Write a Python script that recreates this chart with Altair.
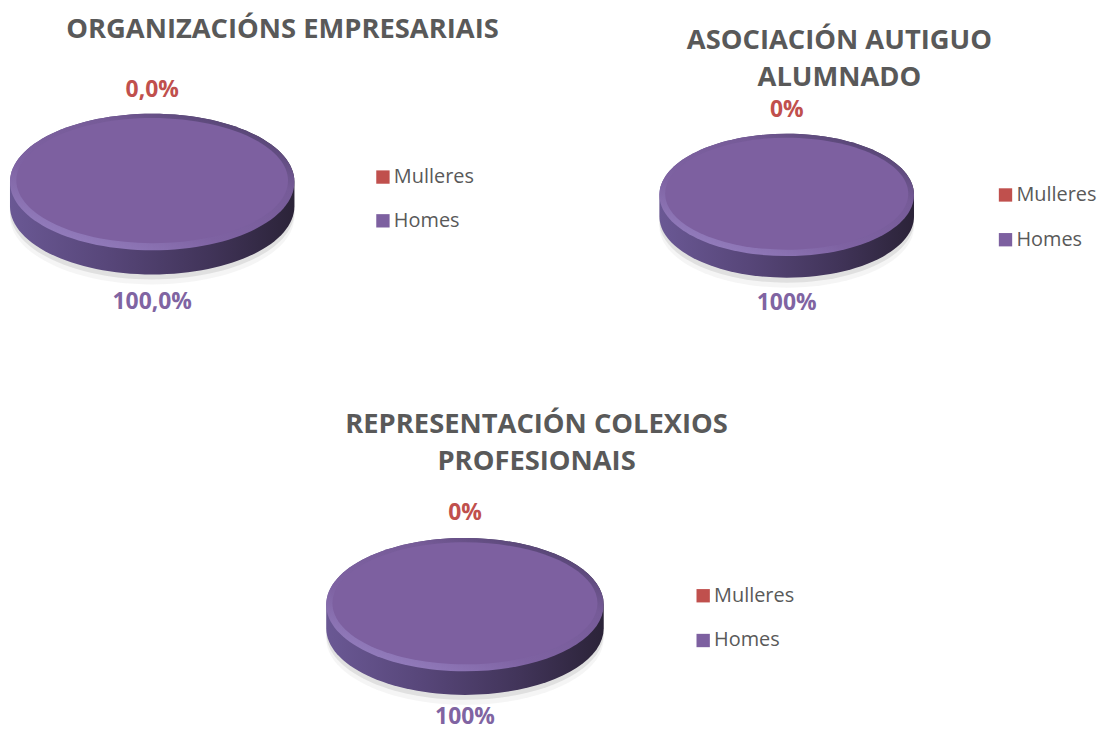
import altair as alt
import pandas as pd

# ---------------- data ----------------
titles = [
    ["ORGANIZACIÓNS EMPRESARIAIS"],
    ["ASOCIACIÓN AUTIGUO", "ALUMNADO"],
    ["REPRESENTACIÓN COLEXIOS", "PROFESIONAIS"],
]
categories = ["Mulleres", "Homes"]
mulleres_pct = [0.0, 0.0, 0.0]
homes_pct = [100.0, 100.0, 100.0]
mulleres_labels = ["0,0%", "0%", "0%"]
homes_labels = ["100,0%", "100%", "100%"]
colors = ["#C0504D", "#7D60A0"]

# ---------------- style / layout ----------------
FONT = "Open Sans"
A, D = 0.48, 0.17   # ellipse ratio and disc depth (relative to horizontal radius)
TOP = f"M -1 0 A 1 {A} 0 1 1 1 0 A 1 {A} 0 1 1 -1 0 Z"
INNER = (f"M -0.955 -0.01 A 0.955 {A-0.04} 0 1 1 0.955 -0.01 "
         f"A 0.955 {A-0.04} 0 1 1 -0.955 -0.01 Z")
SIDE = f"M -1 0 A 1 {A} 0 0 1 1 0 L 1 {D} A 1 {A} 0 0 1 -1 {D} Z"

side_grad = alt.LinearGradient(
    gradient="linear", x1=0, y1=0, x2=1, y2=0,
    stops=[alt.GradientStop(offset=0, color="#6a5894"),
           alt.GradientStop(offset=0.35, color="#574679"),
           alt.GradientStop(offset=0.7, color="#413459"),
           alt.GradientStop(offset=1, color="#2b2338")])
rim_grad = alt.LinearGradient(
    gradient="linear", x1=0.1, y1=1, x2=0.9, y2=0,
    stops=[alt.GradientStop(offset=0, color="#9a86c6"),
           alt.GradientStop(offset=0.35, color="#7e62a2"),
           alt.GradientStop(offset=0.7, color="#765b98"),
           alt.GradientStop(offset=1, color="#4a3c66")])

# per panel: plot w/h, disc width, label dy (top, bottom), legend x/y/rowPadding, title dx/offset
cfg = [
    dict(W=290, H=220, disc=286, dyt=-92, dyb=121, lx=367, ly=95, rp=24, tdx=131, toff=1),
    dict(W=260, H=246, disc=256, dyt=-85, dyb=109, lx=340, ly=113, rp=25, tdx=53, toff=-47),
    dict(W=919, H=218, disc=279, dyt=-92, dyb=113, lx=689, ly=90, rp=25, tdx=72, toff=-7),
]


def panel(i):
    c = cfg[i]
    df = pd.DataFrame({
        "category": categories,
        "value": [mulleres_pct[i], homes_pct[i]],
        "label": [mulleres_labels[i], homes_labels[i]],
    })
    size = c["disc"] ** 2
    base = alt.Chart(df).properties(
        width=c["W"], height=c["H"],
        title=alt.TitleParams(
            text=titles[i], font=FONT, fontSize=27.5, fontWeight="bold",
            color="#595959", anchor="middle", frame="group", baseline="bottom",
            dx=c["tdx"], offset=c["toff"], lineHeight=37),
    )
    slices = base.transform_filter("datum.value > 0")
    shadow1 = slices.mark_point(shape=SIDE, size=size, filled=True, fill="#c8c8c8",
                                opacity=0.18, strokeWidth=0, yOffset=10)
    shadow2 = slices.mark_point(shape=SIDE, size=size, filled=True, fill="#b0b0b0",
                                opacity=0.3, strokeWidth=0, yOffset=5)
    side = slices.mark_point(shape=SIDE, size=size, filled=True, fill=side_grad,
                             opacity=1, strokeWidth=0)
    rim = slices.mark_point(shape=TOP, size=size, filled=True, fill=rim_grad,
                            opacity=1, strokeWidth=0)
    face = slices.mark_point(shape=INNER, size=size, filled=True, opacity=1,
                             strokeWidth=0).encode(
        color=alt.Color("category:N",
                        scale=alt.Scale(domain=categories, range=colors),
                        legend=alt.Legend(
                            title=None, orient="none", legendX=c["lx"], legendY=c["ly"],
                            symbolType="square", symbolSize=180, symbolStrokeWidth=0,
                            symbolOpacity=1, labelFont=FONT, labelFontSize=20,
                            labelColor="#595959", labelOffset=1, rowPadding=c["rp"],
                            padding=0)))
    top_lbl = base.transform_filter(alt.datum.category == "Mulleres").mark_text(
        font=FONT, fontSize=23, fontWeight="bold", color="#C0504D", dy=c["dyt"]
    ).encode(text="label:N")
    bot_lbl = base.transform_filter(alt.datum.category == "Homes").mark_text(
        font=FONT, fontSize=23, fontWeight="bold", color="#8064A2", dy=c["dyb"]
    ).encode(text="label:N")
    return alt.layer(shadow1, shadow2, side, rim, face, top_lbl, bot_lbl)


row1 = alt.hconcat(panel(0), panel(1), spacing=363, bounds="flush").resolve_scale(
    color="independent").resolve_legend(color="independent")
chart = alt.vconcat(row1, panel(2), spacing=426, bounds="flush").resolve_scale(
    color="independent").resolve_legend(color="independent").properties(
    padding={"left": 0, "top": 6, "right": 0, "bottom": 0},
    background="white",
).configure_view(stroke=None)

chart.save("out.html", embed_options={"renderer": "svg", "actions": False})
